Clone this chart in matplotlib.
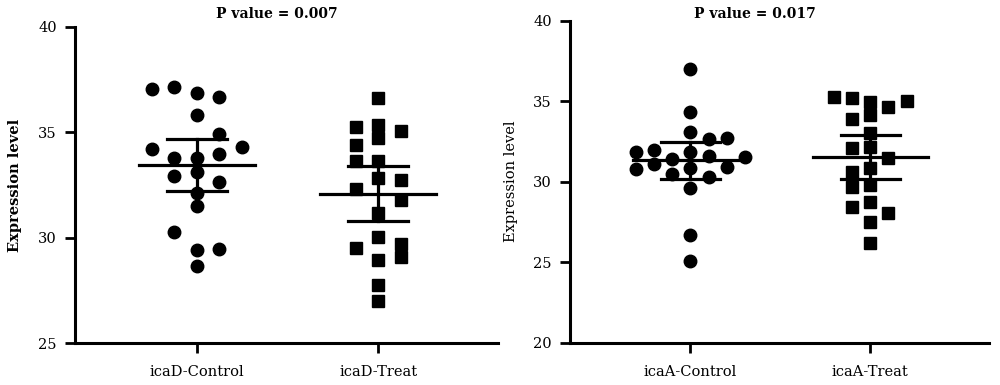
import numpy as np
import matplotlib.pyplot as plt

plt.rcParams['font.family'] = ['DejaVu Serif']

# icaD panel
icaD_ctrl = [37.06, 37.15, 36.87, 36.68, 35.84, 34.94, 34.21, 34.30, 33.77, 33.77,
             33.97, 32.94, 33.10, 32.66, 32.12, 31.49, 30.25, 29.43, 29.46, 28.64]
icaD_ctrl_col = [-2, -1, 0, 1, 0, 1, -2, 2, -1, 0,
                 1, -1, 0, 1, 0, 0, -1, 0, 1, 0]
icaD_treat = [35.25, 36.61, 35.36, 35.08, 34.41, 34.73, 33.65, 33.62, 32.83, 32.75,
              32.33, 31.80, 31.17, 30.02, 29.51, 29.70, 29.07, 28.96, 27.74, 26.98]
icaD_treat_col = [-1, 0, 0, 1, -1, 0, -1, 0, 0, 1,
                  -1, 1, 0, 0, -1, 1, 1, 0, 0, 0]
icaD_mean = [33.43, 32.09]
icaD_lo = [32.20, 30.79]
icaD_hi = [34.68, 33.39]

# icaA panel
icaA_ctrl = [37.03, 34.34, 33.08, 32.68, 32.72, 31.83, 31.99, 31.83, 31.44, 31.57,
             31.53, 30.80, 31.12, 30.85, 30.90, 30.50, 30.31, 29.62, 26.71, 25.06]
icaA_ctrl_col = [0, 0, 0, 1, 2, -3, -2, 0, -1, 1,
                 3, -3, -2, 0, 2, -1, 1, 0, 0, 0]
icaA_treat = [35.26, 35.18, 34.97, 34.62, 35.03, 33.88, 34.14, 33.04, 32.07, 32.17,
              31.45, 30.62, 30.83, 29.69, 29.80, 28.45, 28.76, 28.07, 27.52, 26.17]
icaA_treat_col = [-2, -1, 0, 1, 2, -1, 0, 0, -1, 0,
                  1, -1, 0, -1, 0, -1, 0, 1, 0, 0]
icaA_mean = [31.33, 31.55]
icaA_lo = [30.14, 30.17]
icaA_hi = [32.45, 32.90]

panels = [
    dict(cats=['icaD-Control', 'icaD-Treat'],
         vals=[icaD_ctrl, icaD_treat], cols=[icaD_ctrl_col, icaD_treat_col],
         mean=icaD_mean, lo=icaD_lo, hi=icaD_hi,
         yticks=[25, 30, 35, 40], title='P value = 0.007', ylab_bold=True,
         rect=[0.075, 0.109, 0.423, 0.821], step=0.124, tx=0.277, lp=12),
    dict(cats=['icaA-Control', 'icaA-Treat'],
         vals=[icaA_ctrl, icaA_treat], cols=[icaA_ctrl_col, icaA_treat_col],
         mean=icaA_mean, lo=icaA_lo, hi=icaA_hi,
         yticks=[20, 25, 30, 35, 40], title='P value = 0.017', ylab_bold=False,
         rect=[0.570, 0.110, 0.419, 0.836], step=0.101, tx=0.755, lp=11),
]

fig = plt.figure(figsize=(10, 3.85), dpi=100)

for p in panels:
    ax = fig.add_axes(p['rect'])
    markers = ['o', 's']
    for i in range(2):
        x = i + np.array(p['cols'][i]) * p['step']
        ax.plot(x, p['vals'][i], linestyle='none', marker=markers[i],
                markersize=9 if i == 0 else 8.6, color='black', zorder=3)
        # mean line and error bar
        ax.plot([i - 0.32, i + 0.32], [p['mean'][i]] * 2, color='black', lw=2.3, zorder=4)
        ax.plot([i, i], [p['lo'][i], p['hi'][i]], color='black', lw=2.3, zorder=4)
        ax.plot([i - 0.165, i + 0.165], [p['lo'][i]] * 2, color='black', lw=2.3, zorder=4)
        ax.plot([i - 0.165, i + 0.165], [p['hi'][i]] * 2, color='black', lw=2.3, zorder=4)

    ax.set_xlim(-0.67, 1.66)
    ax.set_ylim(p['yticks'][0], p['yticks'][-1])
    ax.set_yticks(p['yticks'])
    ax.set_xticks([0, 1])
    ax.set_xticklabels(p['cats'])
    ax.spines['top'].set_visible(False)
    ax.spines['right'].set_visible(False)
    for s in ['left', 'bottom']:
        ax.spines[s].set_linewidth(2.2)
        ax.spines[s].set_capstyle('projecting')
    ax.tick_params(axis='both', width=2, length=7, labelsize=10.5, pad=6)
    ax.tick_params(axis='x', labelsize=10.5, pad=9)
    ax.set_ylabel('Expression level', fontsize=10.5,
                  fontweight='bold' if p['ylab_bold'] else 'normal', labelpad=p['lp'])
    fig.text(p['tx'], 1 - 14 / 385, p['title'], fontsize=10, fontweight='bold',
             ha='center', va='center')

fig.savefig('out.png', dpi=100)
